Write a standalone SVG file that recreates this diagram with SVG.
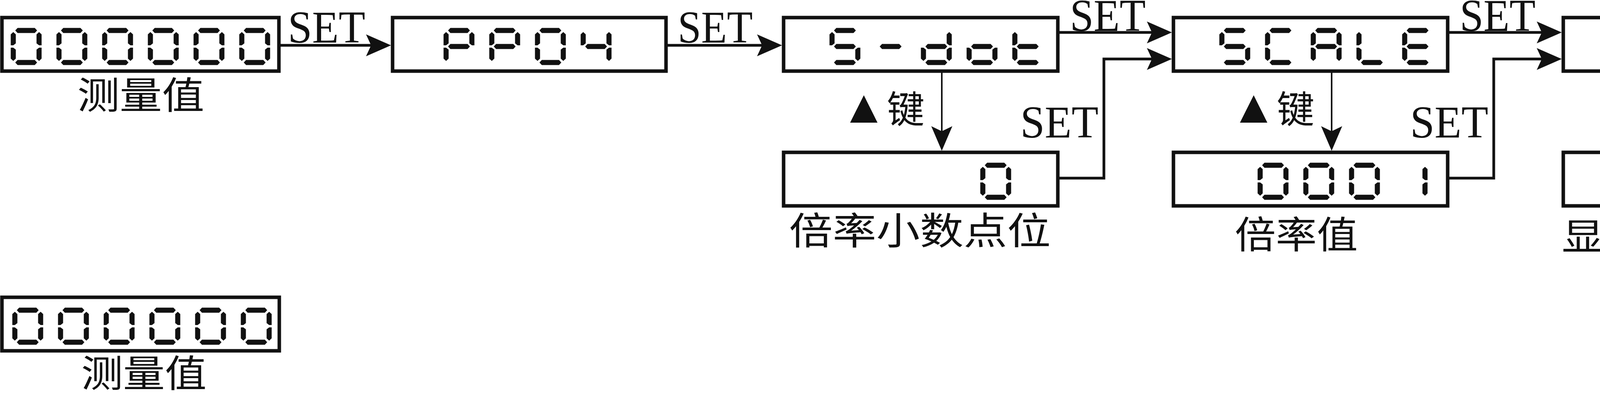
<svg xmlns="http://www.w3.org/2000/svg" xmlns:xlink="http://www.w3.org/1999/xlink" width="5000" height="1006" viewBox="0 0 5000 1006">
<style>
.box{fill:#fff;stroke:#111;stroke-width:9}
.seg{fill:#111}
.set{font-family:"Liberation Serif",serif;font-size:116px;fill:#111}
.cn{font-family:"Liberation Serif","Noto Sans CJK SC",serif;font-size:96px;fill:#111}
.tri{font-size:120px}
.ln{fill:none;stroke:#111;stroke-width:7}
.thin{fill:none;stroke:#111;stroke-width:4}
.ah{fill:#111}
</style>
<defs>
<polygon id="sa" class="seg" points="12,6 18,-0.5 62,-0.5 68,6 62,12.5 18,12.5"/>
<polygon id="sg" class="seg" points="12,47 18,40.5 62,40.5 68,47 62,53.5 18,53.5"/>
<polygon id="sd" class="seg" points="12,88 18,81.5 62,81.5 68,88 62,94.5 18,94.5"/>
<polygon id="sf" class="seg" points="7,10 13.5,16 13.5,39 7,44 0.5,44 0.5,16"/>
<polygon id="sb" class="seg" points="73,10 79.5,16 79.5,44 73,44 66.5,39 66.5,16"/>
<polygon id="se" class="seg" points="7,50 13.5,55 13.5,78 7,84 0.5,78 0.5,50"/>
<polygon id="sc" class="seg" points="73,50 79.5,50 79.5,78 73,84 66.5,78 66.5,55"/>
<g id="d0"><use href="#sa"/><use href="#sb"/><use href="#sc"/><use href="#sd"/><use href="#se"/><use href="#sf"/></g>
<g id="dP"><use href="#sa"/><use href="#sb"/><use href="#se"/><use href="#sf"/><use href="#sg"/></g>
<g id="d4"><use href="#sb"/><use href="#sc"/><use href="#sf"/><use href="#sg"/></g>
<g id="dS"><use href="#sa"/><use href="#sc"/><use href="#sd"/><use href="#sf"/><use href="#sg"/></g>
<g id="dm"><use href="#sg"/></g>
<g id="dd"><use href="#sb"/><use href="#sc"/><use href="#sd"/><use href="#se"/><use href="#sg"/></g>
<g id="do"><use href="#sc"/><use href="#sd"/><use href="#se"/><use href="#sg"/></g>
<g id="dt"><use href="#sd"/><use href="#se"/><use href="#sf"/><use href="#sg"/></g>
<g id="dC"><use href="#sa"/><use href="#sd"/><use href="#se"/><use href="#sf"/></g>
<g id="dA"><use href="#sa"/><use href="#sb"/><use href="#sc"/><use href="#se"/><use href="#sf"/><use href="#sg"/></g>
<g id="dL"><use href="#sd"/><use href="#se"/><use href="#sf"/></g>
<g id="dE"><use href="#sa"/><use href="#sd"/><use href="#se"/><use href="#sf"/><use href="#sg"/></g>
<g id="d1"><use href="#sb"/><use href="#sc"/></g>
<polygon id="ar" class="ah" points="0,0 -64,-28 -51,0 -64,28"/>
<polygon id="ad" class="ah" points="0,0 -27,-63 0,-50 27,-63"/>
</defs>

<g id="n-meas1">
<rect class="box" x="5" y="45" width="709" height="137"/>
<use href="#d0" x="27" y="72"/><use href="#d0" x="144" y="72"/><use href="#d0" x="261" y="72"/><use href="#d0" x="378" y="72"/><use href="#d0" x="495" y="72"/><use href="#d0" x="612" y="72"/>
<text class="cn" x="198" y="278" textLength="325" lengthAdjust="spacingAndGlyphs">测量值</text>
</g>
<g id="n-pp04">
<rect class="box" x="1005" y="45" width="700" height="137"/>
<use href="#dP" x="1135" y="72"/><use href="#dP" x="1252" y="72"/><use href="#d0" x="1369" y="72"/><use href="#d4" x="1486" y="72"/>
</g>
<g id="n-sdot">
<rect class="box" x="2006" y="45" width="702" height="137"/>
<use href="#dS" x="2123" y="72"/><use href="#dm" x="2240" y="72"/><use href="#dd" x="2357" y="72"/><use href="#do" x="2474" y="72"/><use href="#dt" x="2591" y="72"/>
</g>
<g id="n-sdot-val">
<rect class="box" x="2006" y="390" width="702" height="137"/>
<use href="#d0" x="2509" y="417"/>
<text class="cn" x="2020" y="625" textLength="670" lengthAdjust="spacingAndGlyphs">倍率小数点位</text>
</g>
<g id="n-scale">
<rect class="box" x="3004" y="45" width="702" height="137"/>
<use href="#dS" x="3121" y="72"/><use href="#dC" x="3238" y="72"/><use href="#dA" x="3355" y="72"/><use href="#dL" x="3472" y="72"/><use href="#dE" x="3589" y="72"/>
</g>
<g id="n-scale-val">
<rect class="box" x="3004" y="390" width="702" height="137"/>
<use href="#d0" x="3219" y="417"/><use href="#d0" x="3336" y="417"/><use href="#d0" x="3453" y="417"/><use href="#d1" x="3575" y="417"/>
<text class="cn" x="3161" y="635" textLength="315" lengthAdjust="spacingAndGlyphs">倍率值</text>
</g>
<g id="n-ddot">
<rect class="box" x="4002" y="45" width="702" height="137"/>
<use href="#dd" x="4119" y="72"/><use href="#dm" x="4236" y="72"/><use href="#dd" x="4353" y="72"/><use href="#do" x="4470" y="72"/><use href="#dt" x="4587" y="72"/>
</g>
<g id="n-ddot-val">
<rect class="box" x="4002" y="390" width="702" height="137"/>
<use href="#d0" x="4507" y="417"/>
<text class="cn" x="3998" y="640" textLength="764" lengthAdjust="spacingAndGlyphs">显示值小数点位</text>
</g>
<g id="n-meas2">
<rect class="box" x="5" y="761" width="710" height="137"/>
<use href="#d0" x="31" y="788"/><use href="#d0" x="148" y="788"/><use href="#d0" x="265" y="788"/><use href="#d0" x="382" y="788"/><use href="#d0" x="499" y="788"/><use href="#d0" x="616" y="788"/>
<text class="cn" x="208" y="990" textLength="321" lengthAdjust="spacingAndGlyphs">测量值</text>
</g>

<g id="connectors">
<line class="ln" x1="718" y1="116" x2="960" y2="116"/><use href="#ar" x="1001" y="116"/>
<line class="ln" x1="1709" y1="116" x2="1960" y2="116"/><use href="#ar" x="2002" y="116"/>
<line class="ln" x1="2712" y1="83" x2="2960" y2="83"/><use href="#ar" x="3000" y="83"/>
<polyline class="ln" points="2712,456 2826,456 2826,151 2960,151"/><use href="#ar" x="3000" y="151"/>
<line class="thin" x1="2411" y1="186" x2="2411" y2="340"/><use href="#ad" x="2411" y="386"/>
<line class="ln" x1="3710" y1="83" x2="3958" y2="83"/><use href="#ar" x="3998" y="83"/>
<polyline class="ln" points="3710,456 3824,456 3824,151 3958,151"/><use href="#ar" x="3998" y="151"/>
<line class="thin" x1="3409" y1="186" x2="3409" y2="340"/><use href="#ad" x="3409" y="386"/>
<line class="ln" x1="4708" y1="83" x2="4956" y2="83"/><use href="#ar" x="4996" y="83"/>
<polyline class="ln" points="4708,456 4828,456 4828,151 4956,151"/><use href="#ar" x="4996" y="151"/>
<line class="thin" x1="4409" y1="186" x2="4409" y2="340"/><use href="#ad" x="4409" y="386"/>
<text class="set" x="737" y="109" textLength="198" lengthAdjust="spacingAndGlyphs">SET</text>
<text class="set" x="1735" y="109" textLength="192" lengthAdjust="spacingAndGlyphs">SET</text>
<text class="set" x="2739" y="79" textLength="194" lengthAdjust="spacingAndGlyphs">SET</text>
<text class="set" x="3737" y="79" textLength="194" lengthAdjust="spacingAndGlyphs">SET</text>
<text class="set" x="4735" y="79" textLength="194" lengthAdjust="spacingAndGlyphs">SET</text>
<text class="set" x="2612" y="352" textLength="200" lengthAdjust="spacingAndGlyphs">SET</text>
<text class="set" x="3610" y="352" textLength="200" lengthAdjust="spacingAndGlyphs">SET</text>
<text class="set" x="4614" y="352" textLength="194" lengthAdjust="spacingAndGlyphs">SET</text>
<text class="cn" x="2152" y="314"><tspan class="tri">▲</tspan>键</text>
<text class="cn" x="3150" y="314"><tspan class="tri">▲</tspan>键</text>
<text class="cn" x="4148" y="314"><tspan class="tri">▲</tspan>键</text>
</g>
</svg>
